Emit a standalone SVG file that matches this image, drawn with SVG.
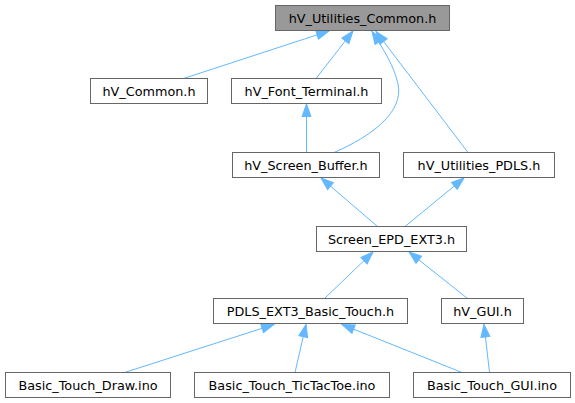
<svg xmlns="http://www.w3.org/2000/svg" width="575" height="403" viewBox="0 0 575 403">
<style>
.n rect{fill:#ffffff;stroke:#666666;stroke-width:1}
.n text{font-family:"DejaVu Sans",sans-serif;font-size:12.8px;fill:#000000;text-anchor:middle}
#root rect{fill:#999999}
.e path{fill:none;stroke:#63b8ff;stroke-width:1;marker-end:url(#arr)}
</style>
<defs>
<marker id="arr" viewBox="0 0 13 10" markerWidth="13" markerHeight="10" refX="12.5" refY="5" orient="auto" markerUnits="userSpaceOnUse" overflow="visible">
<path d="M0,0.5 L12.5,5 L0,9.5 Z" fill="#63b8ff" stroke="#63b8ff" stroke-width="1"/>
</marker>
</defs>
<g class="e" id="edges">
<path d="M183.5,78.5 L329,31"/>
<path d="M316,78.5 L353,31"/>
<path d="M334,152.5 C372,136 404,112 398,84 C394,66 384,50 372,31.5"/>
<path d="M468,152.5 L376,31.5"/>
<path d="M306.5,152.5 L306.5,104"/>
<path d="M377.5,226.5 L321,178"/>
<path d="M405,226.5 L464,178"/>
<path d="M324.5,298.5 L373,252"/>
<path d="M467.5,298.5 L409,252"/>
<path d="M124.5,372.5 L274,324.5"/>
<path d="M295,372.5 L306,324.5"/>
<path d="M462,372.5 L342,324.5"/>
<path d="M489.5,372.5 L484,324.5"/>
</g>
<g class="n" id="root"><rect x="275.5" y="5.5" width="174" height="25"/><text x="362.5" y="23">hV_Utilities_Common.h</text></g>
<g class="n" id="hv_common"><rect x="90.5" y="78.5" width="117" height="25"/><text x="149" y="96">hV_Common.h</text></g>
<g class="n" id="hv_font_terminal"><rect x="231.5" y="78.5" width="150" height="25"/><text x="306.5" y="96">hV_Font_Terminal.h</text></g>
<g class="n" id="hv_screen_buffer"><rect x="232.5" y="152.5" width="147" height="25"/><text x="306" y="170">hV_Screen_Buffer.h</text></g>
<g class="n" id="hv_utilities_pdls"><rect x="403.5" y="152.5" width="151" height="25"/><text x="479" y="170">hV_Utilities_PDLS.h</text></g>
<g class="n" id="screen_epd_ext3"><rect x="316.5" y="226.5" width="150" height="25"/><text x="391.5" y="244">Screen_EPD_EXT3.h</text></g>
<g class="n" id="pdls_ext3_basic_touch"><rect x="213.5" y="298.5" width="194" height="25"/><text x="310.5" y="316">PDLS_EXT3_Basic_Touch.h</text></g>
<g class="n" id="hv_gui"><rect x="441.5" y="298.5" width="82" height="25"/><text x="482.5" y="316">hV_GUI.h</text></g>
<g class="n" id="basic_touch_draw"><rect x="5.5" y="372.5" width="165" height="25"/><text x="88" y="390">Basic_Touch_Draw.ino</text></g>
<g class="n" id="basic_touch_tictactoe"><rect x="194.5" y="372.5" width="195" height="25"/><text x="292" y="390">Basic_Touch_TicTacToe.ino</text></g>
<g class="n" id="basic_touch_gui"><rect x="413.5" y="372.5" width="157" height="25"/><text x="492" y="390">Basic_Touch_GUI.ino</text></g>
</svg>
